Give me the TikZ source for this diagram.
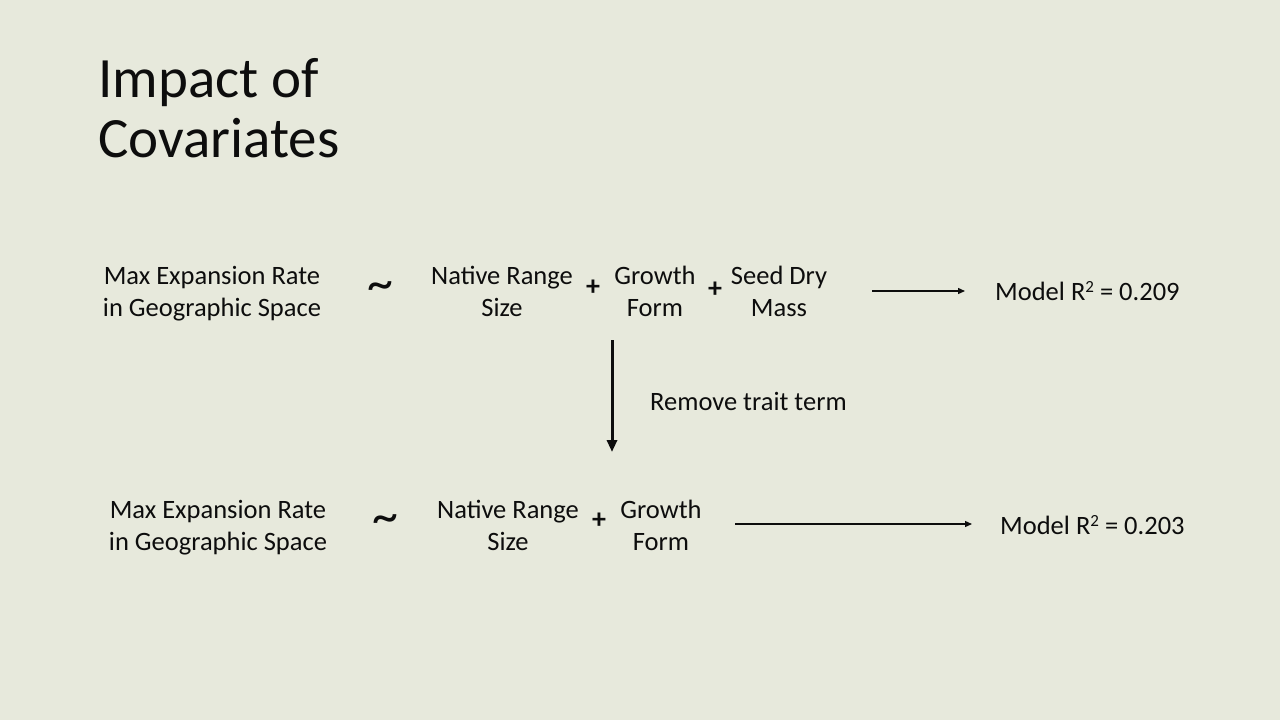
\documentclass[tikz,border=0pt]{standalone}
\usepackage{fontspec}
\setmainfont{Carlito}
\usetikzlibrary{arrows.meta}
\definecolor{bgc}{HTML}{E7E9DC}
\definecolor{ink}{HTML}{0D0D0D}
\newcommand{\mysq}{\raisebox{0.3em}{\fontsize{17}{17}\selectfont 2}}
\tikzset{
  body/.style={font=\fontsize{26.5}{32}\selectfont, text=ink, align=center, inner sep=0pt},
  op/.style={font=\fontsize{28}{32}\selectfont\bfseries, text=ink, inner sep=0pt},
  tild/.style={font=\fontsize{52}{52}\selectfont, text=ink, inner sep=0pt},
  thinarrow/.style={draw=ink, line width=1.3pt, -{Triangle[length=7pt,width=6pt]}},
  thickarrow/.style={draw=ink, line width=3pt, -{Triangle[length=12pt,width=10pt]}}
}
\begin{document}
\begin{tikzpicture}[x=1pt,y=-1pt]
\useasboundingbox (0,0) rectangle (1280,720);
\fill[bgc] (0,0) rectangle (1280,720);
\node[font=\fontsize{57}{60}\selectfont, text=ink, align=left, inner sep=0pt, anchor=base west] (title) at (98,157) {Impact of\\Covariates};
% row 1
\node[body] (y1) at (212,294) {Max Expansion Rate\\in Geographic Space};
\node[tild] (t1) at (380,291) {\char`\~};
\node[body] (n1) at (502,291) {Native Range\\Size};
\node[op] (p1) at (593,288) {+};
\node[body] (g1) at (655,291) {Growth\\Form};
\node[op] (p2) at (715,290) {+};
\node[body] (s1) at (779,291) {Seed Dry\\Mass};
\coordinate (a1s) at (872,291);
\coordinate (a1e) at (965,291);
\draw[thinarrow] (a1s) -- (a1e);
\node[body, anchor=west] (m1) at (995,291) {Model R\mysq\ = 0.209};
% vertical
\coordinate (vs) at (612,340);
\coordinate (ve) at (612,452);
\draw[thickarrow] (vs) -- (ve);
\node[body, anchor=west] (rm) at (650,401) {Remove trait term};
% row 2
\node[body] (y2) at (218,528) {Max Expansion Rate\\in Geographic Space};
\node[tild] (t2) at (385,524) {\char`\~};
\node[body] (n2) at (508,525) {Native Range\\Size};
\node[op] (p3) at (599,521) {+};
\node[body] (g2) at (661,525) {Growth\\Form};
\coordinate (a2s) at (735,524);
\coordinate (a2e) at (972,524);
\draw[thinarrow] (a2s) -- (a2e);
\node[body, anchor=west] (m2) at (1000,525) {Model R\mysq\ = 0.203};
\end{tikzpicture}
\end{document}
